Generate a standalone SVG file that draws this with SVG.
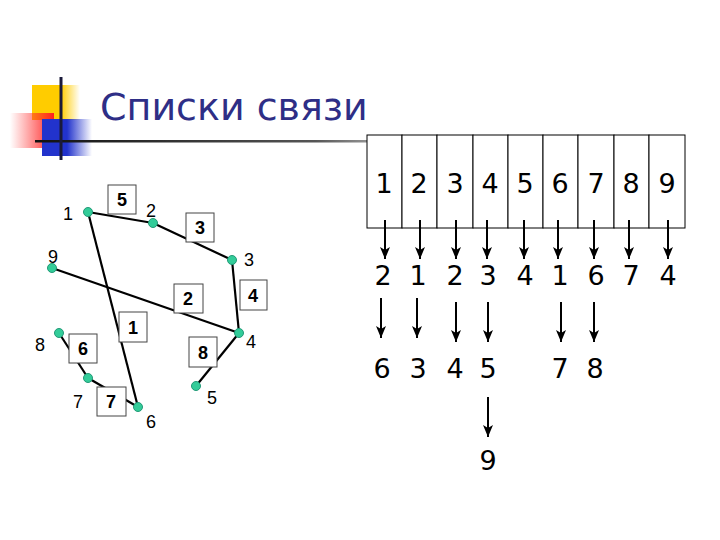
<svg xmlns="http://www.w3.org/2000/svg" width="720" height="540" viewBox="0 0 720 540">
<defs>
<linearGradient id="gy" x1="0" y1="0" x2="1" y2="0"><stop offset="0" stop-color="#ffcc00"/><stop offset="0.6" stop-color="#ffcc00"/><stop offset="1" stop-color="#ffcc00" stop-opacity="0"/></linearGradient>
<linearGradient id="gr" x1="0" y1="0" x2="1" y2="0"><stop offset="0" stop-color="#ff3333" stop-opacity="0"/><stop offset="1" stop-color="#ff2020"/></linearGradient>
<linearGradient id="gb" x1="0" y1="0" x2="1" y2="0"><stop offset="0" stop-color="#2233cc"/><stop offset="0.5" stop-color="#2233cc"/><stop offset="1" stop-color="#2233cc" stop-opacity="0"/></linearGradient>
<linearGradient id="gl" x1="0" y1="0" x2="1" y2="0"><stop offset="0" stop-color="#111"/><stop offset="0.55" stop-color="#555"/><stop offset="1" stop-color="#ccc" stop-opacity="0"/></linearGradient>
<marker id="ah" viewBox="0 0 12 10" refX="12" refY="5" markerWidth="12" markerHeight="10" markerUnits="userSpaceOnUse" orient="auto"><path d="M0,0 L12,5 L0,10 L3,5 z" fill="#000"/></marker>
</defs>
<style>
.title{font-family:"DejaVu Sans",sans-serif;font-size:38px;fill:#2e2e86}
.num{font-family:"DejaVu Sans",sans-serif;font-size:27px;fill:#000;text-anchor:middle}
.nl{font-family:"Liberation Sans",Arial,sans-serif;font-size:18px;fill:#000;text-anchor:middle}
.bl{font-family:"Liberation Sans",Arial,sans-serif;font-size:18px;font-weight:bold;fill:#000;text-anchor:middle}
.box{fill:#fff;stroke:#444;stroke-width:1}
.edge{stroke:#000;stroke-width:2.2;fill:none}
.node{fill:#33cc99;stroke:#229977;stroke-width:1}
.arr{stroke:#000;stroke-width:2;marker-end:url(#ah)}
.cell{fill:#fff;stroke:#000;stroke-width:1}
</style>
<rect width="720" height="540" fill="#fff"/>
<g id="decor">
<rect x="32" y="85" width="48" height="35" fill="url(#gy)"/>
<rect x="10" y="113" width="44" height="35" fill="url(#gr)"/>
<rect x="42" y="119" width="50" height="37" fill="url(#gb)"/>
<rect x="35" y="140" width="510" height="2.5" fill="url(#gl)"/>
<line x1="61" y1="77" x2="61" y2="160" stroke="#1a1a3a" stroke-width="3"/>
</g>
<text class="title" x="100" y="120">Списки связи</text>
<g id="connectors">
<line class="edge" x1="88" y1="212" x2="153" y2="223"/>
<line class="edge" x1="153" y1="223" x2="232" y2="260"/>
<line class="edge" x1="232" y1="260" x2="239" y2="333"/>
<line class="edge" x1="239" y1="333" x2="52" y2="268"/>
<line class="edge" x1="239" y1="333" x2="196" y2="386"/>
<line class="edge" x1="88" y1="212" x2="138" y2="407"/>
<line class="edge" x1="138" y1="407" x2="88" y2="378"/>
<line class="edge" x1="88" y1="378" x2="59" y2="333"/>
</g>
<g id="edge-labels">
<g id="e5"><rect class="box" x="108" y="185" width="28" height="29"/><text class="bl" x="122" y="206">5</text></g>
<g id="e3"><rect class="box" x="186" y="213" width="28" height="29"/><text class="bl" x="200" y="234">3</text></g>
<g id="e4"><rect class="box" x="240" y="280" width="27" height="30"/><text class="bl" x="253" y="302">4</text></g>
<g id="e2"><rect class="box" x="174" y="284" width="29" height="29"/><text class="bl" x="188" y="305">2</text></g>
<g id="e1"><rect class="box" x="119" y="312" width="28" height="30"/><text class="bl" x="133" y="334">1</text></g>
<g id="e6"><rect class="box" x="69" y="334" width="28" height="29"/><text class="bl" x="83" y="355">6</text></g>
<g id="e7"><rect class="box" x="97" y="387" width="29" height="29"/><text class="bl" x="111" y="408">7</text></g>
<g id="e8"><rect class="box" x="189" y="337" width="28" height="30"/><text class="bl" x="203" y="359">8</text></g>
</g>
<g id="n1"><circle class="node" cx="88" cy="212" r="4.5"/><text class="nl" x="68" y="220">1</text></g>
<g id="n2"><circle class="node" cx="153" cy="223" r="4.5"/><text class="nl" x="151" y="217">2</text></g>
<g id="n3"><circle class="node" cx="232" cy="260" r="4.5"/><text class="nl" x="249" y="266">3</text></g>
<g id="n4"><circle class="node" cx="239" cy="333" r="4.5"/><text class="nl" x="251" y="348">4</text></g>
<g id="n5"><circle class="node" cx="196" cy="386" r="4.5"/><text class="nl" x="212" y="404">5</text></g>
<g id="n6"><circle class="node" cx="138" cy="407" r="4.5"/><text class="nl" x="151" y="428">6</text></g>
<g id="n7"><circle class="node" cx="88" cy="378" r="4.5"/><text class="nl" x="78" y="408">7</text></g>
<g id="n8"><circle class="node" cx="59" cy="333" r="4.5"/><text class="nl" x="40" y="351">8</text></g>
<g id="n9"><circle class="node" cx="52" cy="268" r="4.5"/><text class="nl" x="53" y="263">9</text></g>
<g id="table">
<rect class="cell" x="367" y="135" width="35" height="93"/>
<rect class="cell" x="402" y="135" width="35" height="93"/>
<rect class="cell" x="437" y="135" width="36" height="93"/>
<rect class="cell" x="473" y="135" width="35" height="93"/>
<rect class="cell" x="508" y="135" width="35" height="93"/>
<rect class="cell" x="543" y="135" width="35" height="93"/>
<rect class="cell" x="578" y="135" width="36" height="93"/>
<rect class="cell" x="614" y="135" width="35" height="93"/>
<rect class="cell" x="649" y="135" width="36" height="93"/>
<text class="num" x="384" y="193">1</text>
<text class="num" x="419" y="193">2</text>
<text class="num" x="455" y="193">3</text>
<text class="num" x="490" y="193">4</text>
<text class="num" x="525" y="193">5</text>
<text class="num" x="560" y="193">6</text>
<text class="num" x="596" y="193">7</text>
<text class="num" x="631" y="193">8</text>
<text class="num" x="667" y="193">9</text>
</g>
<g id="list-arrows">
<line class="arr" x1="385" y1="220" x2="385" y2="259"/>
<line class="arr" x1="420" y1="220" x2="420" y2="259"/>
<line class="arr" x1="456" y1="220" x2="456" y2="259"/>
<line class="arr" x1="487" y1="220" x2="487" y2="259"/>
<line class="arr" x1="524" y1="220" x2="524" y2="259"/>
<line class="arr" x1="558" y1="220" x2="558" y2="259"/>
<line class="arr" x1="594" y1="220" x2="594" y2="259"/>
<line class="arr" x1="629" y1="220" x2="629" y2="259"/>
<line class="arr" x1="668" y1="220" x2="668" y2="259"/>
<line class="arr" x1="381" y1="298" x2="381" y2="338"/>
<line class="arr" x1="417" y1="298" x2="417" y2="338"/>
<line class="arr" x1="456" y1="302" x2="456" y2="342"/>
<line class="arr" x1="488" y1="302" x2="488" y2="342"/>
<line class="arr" x1="561" y1="302" x2="561" y2="342"/>
<line class="arr" x1="594" y1="302" x2="594" y2="342"/>
<line class="arr" x1="488" y1="397" x2="488" y2="437"/>
</g>
<g id="lists">
<text class="num" x="383" y="285">2</text>
<text class="num" x="418" y="285">1</text>
<text class="num" x="455" y="285">2</text>
<text class="num" x="488" y="285">3</text>
<text class="num" x="525" y="285">4</text>
<text class="num" x="560" y="285">1</text>
<text class="num" x="596" y="285">6</text>
<text class="num" x="631" y="285">7</text>
<text class="num" x="668" y="285">4</text>
<text class="num" x="382" y="378">6</text>
<text class="num" x="418" y="378">3</text>
<text class="num" x="455" y="378">4</text>
<text class="num" x="488" y="378">5</text>
<text class="num" x="560" y="378">7</text>
<text class="num" x="595" y="378">8</text>
<text class="num" x="488" y="470">9</text>
</g>
</svg>
